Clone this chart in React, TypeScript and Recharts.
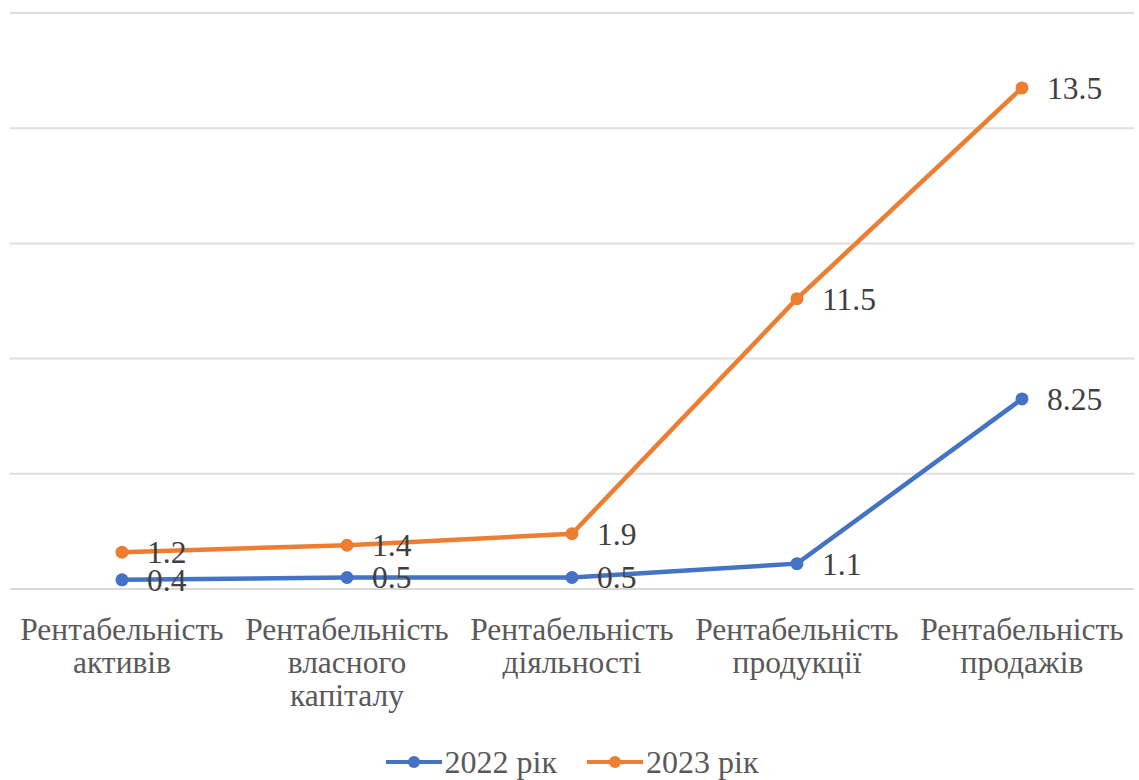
import { AreaChart, Area, XAxis, YAxis, CartesianGrid, Legend } from "recharts";

const categories = [
  "Рентабельність активів",
  "Рентабельність власного капіталу",
  "Рентабельність діяльності",
  "Рентабельність продукції",
  "Рентабельність продажів",
];
const values2022 = [0.4, 0.5, 0.5, 1.1, 8.25];
const values2023 = [1.2, 1.4, 1.9, 11.5, 13.5];
const yTicks = [0, 5, 10, 15, 20, 25];

const series = [
  { key: "y2022", name: "2022 рік", color: "#4472C4", values: values2022 },
  { key: "y2023", name: "2023 рік", color: "#ED7D31", values: values2023 },
];

const FONT = "Liberation Serif, Tinos, DejaVu Serif, serif";

// лінії накопичені (stacked), як в оригіналі
const chartData = categories.map((name, i) => ({
  name,
  y2022: values2022[i],
  y2023: values2023[i],
}));

const WrappedTick = ({ x, y, payload }: any) => {
  const words = String(payload.value).split(" ");
  return (
    <text x={x} y={y} textAnchor="middle" fill="#595959" fontSize={31.5} style={{ fontFamily: FONT }}>
      {words.map((w, i) => (
        <tspan key={i} x={x} dy={i === 0 ? 43 : 33}>
          {w}
        </tspan>
      ))}
    </text>
  );
};

const makeLabel = (values: number[]) => (props: any) => {
  const { x, y, index } = props;
  return (
    <text x={x + 25} y={y + 11} fill="#404040" fontSize={31.5} style={{ fontFamily: FONT }} textAnchor="start">
      {values[index]}
    </text>
  );
};

const LegendContent = () => (
  <div
    style={{
      display: "flex",
      justifyContent: "center",
      alignItems: "center",
      height: 40,
      paddingTop: 4,
      boxSizing: "border-box",
      fontFamily: FONT,
      fontSize: 32,
      lineHeight: "24px",
      color: "#595959",
    }}
  >
    {series.map((s) => (
      <div key={s.key} style={{ display: "flex", alignItems: "center", margin: "0 15px" }}>
        <svg width={56} height={16} style={{ marginRight: 3 }}>
          <line x1={0} y1={8} x2={56} y2={8} stroke={s.color} strokeWidth={4} />
          <circle cx={28} cy={8} r={6} fill={s.color} />
        </svg>
        <span>{s.name}</span>
      </div>
    ))}
  </div>
);

export default function App() {
  return (
    <div style={{ position: "absolute", left: 0, top: 0 }}>
      <AreaChart
        width={1139}
        height={780}
        data={chartData}
        margin={{ top: 13, right: 5, left: 10, bottom: 0 }}
      >
        <CartesianGrid vertical={false} stroke="#dedede" strokeWidth={2} />
        <XAxis
          dataKey="name"
          interval={0}
          height={151}
          padding={{ left: 112, right: 112 }}
          axisLine={{ stroke: "#d9d9d9", strokeWidth: 2 }}
          tickLine={false}
          tick={<WrappedTick />}
        />
        <YAxis hide domain={[0, 25]} ticks={yTicks} width={0} />
        <Legend verticalAlign="bottom" content={<LegendContent />} />
        {series.map((s) => (
          <Area
            key={s.key}
            type="linear"
            dataKey={s.key}
            name={s.name}
            stackId="a"
            stroke={s.color}
            strokeWidth={4.5}
            fill="none"
            fillOpacity={1}
            dot={{ r: 6.5, fill: s.color, fillOpacity: 1, stroke: s.color, strokeWidth: 0 }}
            activeDot={false}
            label={makeLabel(s.values)}
            isAnimationActive={false}
          />
        ))}
      </AreaChart>
    </div>
  );
}
